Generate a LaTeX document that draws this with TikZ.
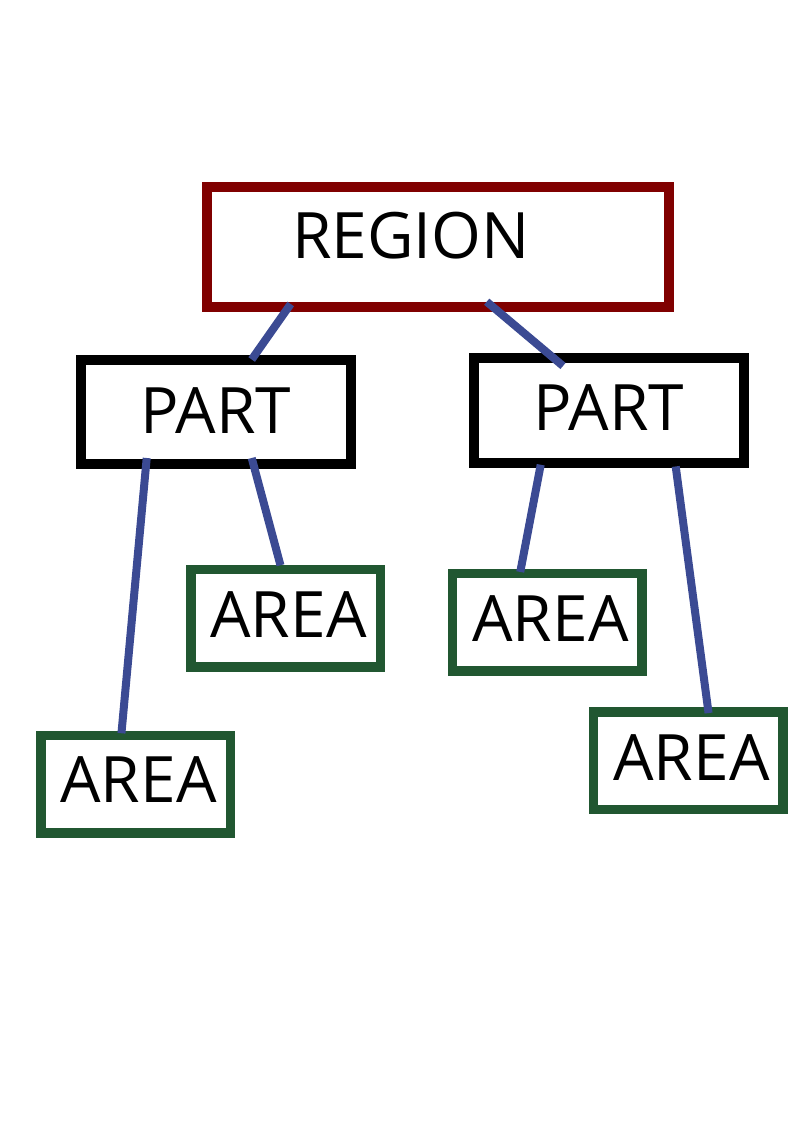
\documentclass[tikz,border=0pt]{standalone}
\usepackage{fontspec}
\setmainfont{Open Sans}
\usepackage{xcolor}
\usepackage{tikz}
\usetikzlibrary{positioning,calc}

\definecolor{regionred}{HTML}{800000}
\definecolor{areagreen}{HTML}{215731}
\definecolor{linkblue}{HTML}{3B4A93}

\begin{document}
\begin{tikzpicture}[
    x=1pt, y=-1pt,
    font=\fontsize{64}{77}\selectfont,
    base_box/.style={draw, fill=white, rectangle, outer sep=0pt, inner sep=0pt},
    region_box/.style={base_box, draw=regionred, line width=10pt, minimum width=462.5pt, minimum height=119.5pt},
    part_box/.style={base_box, draw=black, line width=10pt, minimum width=270pt, minimum height=104.5pt},
    area_box/.style={base_box, draw=areagreen, line width=9.5pt, minimum width=189.5pt, minimum height=97.5pt},
    box_text/.style={inner sep=0pt},
    link/.style={draw=linkblue, line width=8pt, line cap=butt}
]
\useasboundingbox (0,0) rectangle (794,1123);

% Nodes
\node (region) [region_box, label={[box_text, shift={(-26.75pt,11.75pt)}]center:REGION}] at (437.75,247.25) {};

\node (partl) [part_box, label={[box_text, shift={(-0.5pt,1.5pt)}]center:PART}] at (216,411.75) {};
\node (partr) [part_box, label={[box_text, shift={(-0.5pt,2.5pt)}]center:PART}] at (609,410.5) {};

\node (areaa) [area_box, label={[box_text, shift={(3pt,4pt)}]center:AREA}] at (135.5,784) {};
\node (areab) [area_box, label={[box_text, shift={(3pt,3.5pt)}]center:AREA}] at (285.5,618) {};
\node (areac) [area_box, label={[box_text, shift={(3.5pt,3pt)}]center:AREA}] at (547,622) {};
\node (aread) [area_box, label={[box_text, shift={(3.5pt,2.5pt)}]center:AREA}] at (688,760.5) {};

% Connections
\draw [link] ([xshift=84.2pt,yshift=3pt]region.south west) -- ([xshift=170.7pt]partl.north west);
\draw [link] ([xshift=280.2pt,yshift=5.3pt]region.south west) -- ([xshift=89pt,yshift=-7.7pt]partr.north west);
\draw [link] ([xshift=65.7pt,yshift=6pt]partl.south west) -- ([xshift=80.7pt,yshift=2pt]areaa.north west);
\draw [link] ([xshift=170.7pt,yshift=6pt]partl.south west) -- ([xshift=89.7pt,yshift=4pt]areab.north west);
\draw [link] ([xshift=66.7pt,yshift=-2pt]partr.south west) -- ([xshift=68pt,yshift=1.3pt]areac.north west);
\draw [link] ([xshift=201.7pt,yshift=-3.7pt]partr.south west) -- ([xshift=115.3pt,yshift=-1.3pt]aread.north west);

\end{tikzpicture}
\end{document}
